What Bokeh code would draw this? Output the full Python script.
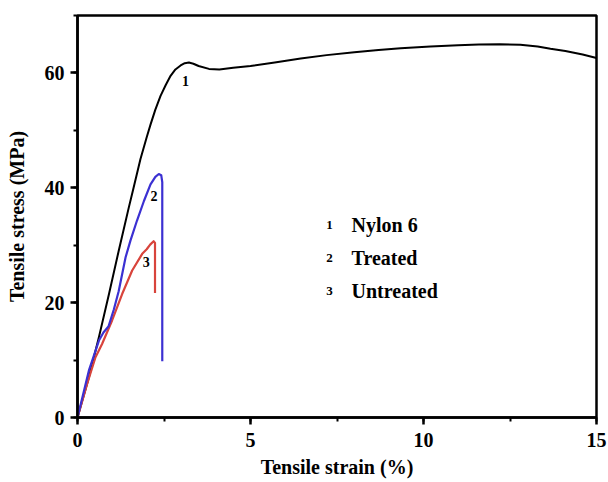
from bokeh.plotting import figure
from bokeh.models import Range1d, SingleIntervalTicker, Label
from bokeh.embed import file_html
from bokeh.resources import INLINE

# Data
nylon_x = [0, 0.33, 0.62, 0.91, 1.19, 1.48, 1.6, 1.82, 2.0, 2.11, 2.25, 2.4, 2.55, 2.69, 2.83, 2.98, 3.1,
           3.22, 3.35, 3.5, 3.8, 4.1, 4.5, 5.0, 5.7, 6.45, 7.2, 8.0, 8.7, 9.34, 10.2, 11.0, 11.6, 12.2,
           12.8, 13.3, 13.67, 14.1, 14.6, 15.0]
nylon_y = [0, 7.0, 14.0, 21.5, 29.0, 36.5, 39.5, 45.0, 48.8, 51.0, 53.6, 56.0, 57.9, 59.5, 60.6, 61.3, 61.7,
           61.8, 61.6, 61.2, 60.7, 60.6, 60.9, 61.2, 61.8, 62.5, 63.1, 63.6, 64.0, 64.3, 64.6, 64.8, 64.95, 65.0,
           64.9, 64.6, 64.2, 63.8, 63.2, 62.6]

treated_x = [0, 0.33, 0.62, 0.75, 0.9, 1.05, 1.19, 1.39, 1.53, 1.72, 1.92, 2.11, 2.25, 2.35, 2.42, 2.45, 2.45]
treated_y = [0, 8.2, 13.4, 14.8, 15.9, 18.8, 22.0, 27.9, 30.8, 34.3, 37.7, 40.6, 41.9, 42.4, 42.2, 41.0, 9.8]

untreated_x = [0, 0.28, 0.52, 0.71, 1.0, 1.29, 1.58, 1.87, 2.0, 2.1, 2.2, 2.24, 2.24]
untreated_y = [0, 5.9, 10.5, 12.8, 16.9, 21.5, 25.6, 28.5, 29.3, 30.1, 30.7, 30.4, 21.7]

legend_nums = ["1", "2", "3"]
legend_names = ["Nylon 6", "Treated", "Untreated"]

FONT = "Liberation Serif"

p = figure(width=608, height=482, output_backend="svg", toolbar_location=None,
           x_range=Range1d(0, 15), y_range=Range1d(0, 70),
           min_border_left=77, min_border_right=12, min_border_top=15, min_border_bottom=65)
p.grid.visible = False
p.background_fill_color = "white"
p.border_fill_color = "white"
p.outline_line_color = "black"
p.outline_line_width = 2.5

p.line(nylon_x, nylon_y, line_color="black", line_width=2, line_join="round")
p.line(untreated_x, untreated_y, line_color="#d8443c", line_width=2.2, line_join="round")
p.line(treated_x, treated_y, line_color="#3b30d2", line_width=2.2, line_join="round")

p.xaxis.ticker = SingleIntervalTicker(interval=5, num_minor_ticks=2)
p.yaxis.ticker = SingleIntervalTicker(interval=20, num_minor_ticks=2)

for ax in (p.xaxis[0], p.yaxis[0]):
    ax.axis_line_width = 2.5
    ax.axis_line_color = "black"
    ax.major_tick_line_width = 2.5
    ax.minor_tick_line_width = 2
    ax.major_tick_in = 0
    ax.minor_tick_in = 0
    ax.major_tick_out = 7
    ax.minor_tick_out = 4
    ax.major_label_text_font = FONT
    ax.major_label_text_font_style = "bold"
    ax.major_label_text_font_size = "20px"
    ax.major_label_text_color = "black"
    ax.axis_label_text_font = FONT
    ax.axis_label_text_font_style = "bold"
    ax.axis_label_text_font_size = "20px"
    ax.axis_label_text_color = "black"

p.xaxis.axis_label = "Tensile strain (%)"
p.yaxis.axis_label = "Tensile stress (MPa)"
p.xaxis.major_label_standoff = 8
p.xaxis.axis_label_standoff = 6
p.yaxis.major_label_standoff = 6
p.yaxis.axis_label_standoff = 14

# curve labels
for t, x, y in [("1", 3.12, 58.6), ("2", 2.21, 38.6), ("3", 1.99, 27.0)]:
    p.add_layout(Label(x=x, y=y, text=t, text_font=FONT, text_font_style="bold",
                       text_font_size="14px", text_align="center", text_baseline="middle",
                       text_color="black"))

# legend text
leg_y = [33.5, 27.7, 22.0]
for num, name, y in zip(legend_nums, legend_names, leg_y):
    p.add_layout(Label(x=7.28, y=y, text=num, text_font=FONT, text_font_style="bold",
                       text_font_size="13px", text_align="center", text_baseline="alphabetic",
                       text_color="black"))
    p.add_layout(Label(x=7.92, y=y, text=name, text_font=FONT, text_font_style="bold",
                       text_font_size="20px", text_align="left", text_baseline="alphabetic",
                       text_color="black"))

open("out.html", "w").write(file_html(p, INLINE))
